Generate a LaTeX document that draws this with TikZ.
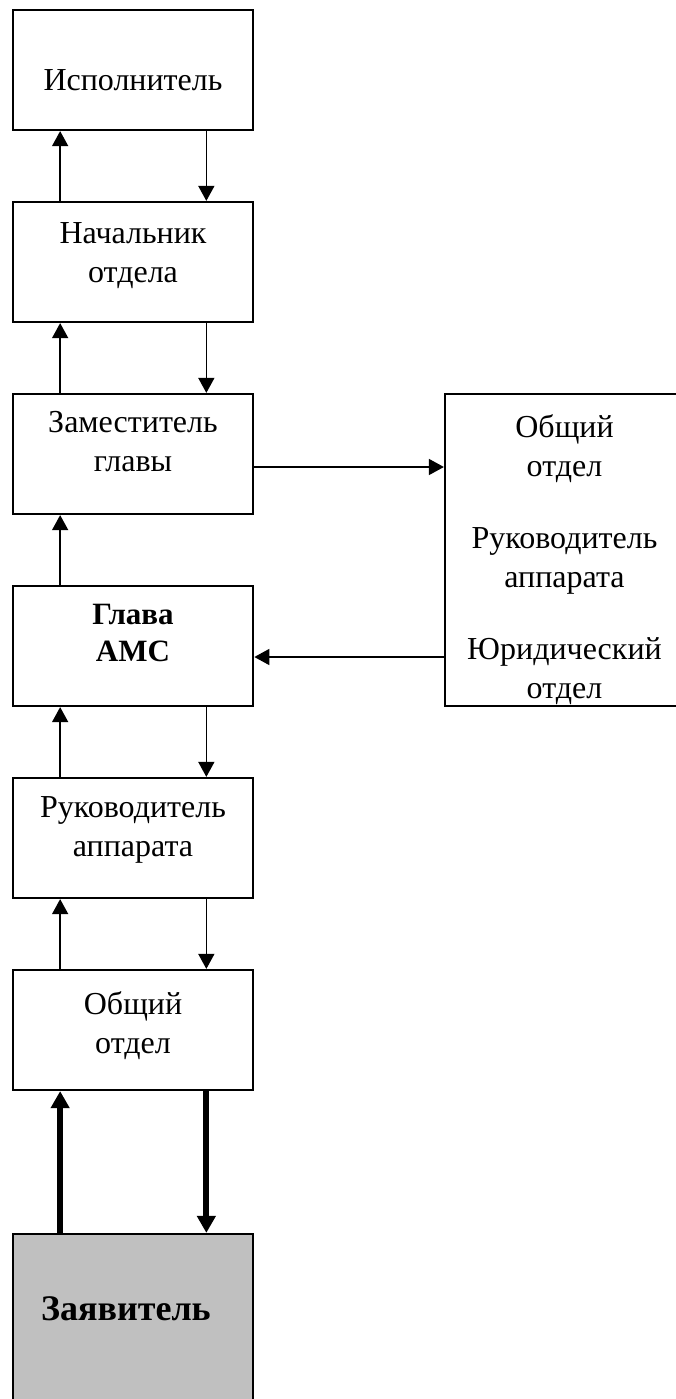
\documentclass[tikz,border=0pt]{standalone}
\usepackage{fontspec}
\setmainfont{Liberation Serif}
\usetikzlibrary{arrows.meta}
\definecolor{seryj}{HTML}{C0C0C0}
\begin{document}
\begin{tikzpicture}[x=1pt, y=-1pt, node distance=192pt,
	blok/.style={shape=rectangle, draw=black, line width=2.2pt, minimum width=240.5pt, minimum height=120pt, inner sep=0pt},
	tekst/.style={anchor=north, align=center, inner sep=0pt, font=\fontsize{32}{39}\selectfont},
	strelka/.style={-{Triangle[length=15pt,width=16pt]}, line width=1.5pt},
	tolstaya/.style={-{Triangle[length=17pt,width=18pt]}, line width=6pt}]
	\useasboundingbox (0,0) rectangle (675,1399);
	
	\draw (133,70) node[blok](ispol){};
	\draw ([yshift=-60pt]ispol.north) node[tekst](ispolT){Исполнитель};
	
	\draw node[blok, below of = ispol](nach){};
	\draw ([yshift=-21pt]nach.north) node[tekst](nachT){Начальник\\отдела};
	
	\draw node[blok, below of = nach](zam){};
	\draw ([yshift=-18pt]zam.north) node[tekst](zamT){Заместитель\\главы};
	
	\draw node[blok, below of = zam](glava){};
	\draw ([yshift=-19pt]glava.north) node[tekst, font=\fontsize{31}{37}\selectfont\bfseries](glavaT){Глава\\АМС};
	
	\draw node[blok, below of = glava](ruk){};
	\draw ([yshift=-19pt]ruk.north) node[tekst](rukT){Руководитель\\аппарата};
	
	\draw node[blok, below of = ruk](obsh){};
	\draw ([yshift=-22pt]obsh.north) node[tekst](obshT){Общий\\отдел};
	
	\draw node[blok, fill=seryj, minimum height=240pt, below of = obsh, yshift=-132pt](zayav){};
	\draw ([xshift=-7pt, yshift=-64pt]zayav.north) node[tekst, font=\fontsize{36}{40}\selectfont\bfseries](zayavT){Заявитель};
	
	\draw (564.5,550) node[blok, minimum width=239pt, minimum height=312pt](otdely){};
	\draw ([yshift=-21pt]otdely.north) node[tekst](otdelyT){Общий\\отдел\\[33pt]Руководитель\\аппарата\\[33pt]Юридический\\отдел};
	
	% vverh
	\draw[strelka] ([xshift=48.5pt]nach.north west) -- ([xshift=48.5pt]ispol.south west);
	\draw[strelka] ([xshift=48.5pt]zam.north west) -- ([xshift=48.5pt]nach.south west);
	\draw[strelka] ([xshift=48.5pt]glava.north west) -- ([xshift=48.5pt]zam.south west);
	\draw[strelka] ([xshift=48.5pt]ruk.north west) -- ([xshift=48.5pt]glava.south west);
	\draw[strelka] ([xshift=48.5pt]obsh.north west) -- ([xshift=48.5pt]ruk.south west);
	\draw[tolstaya] ([xshift=48.5pt]zayav.north west) -- ([xshift=48.5pt]obsh.south west);
	
	% vniz
	\draw[strelka] ([xshift=-48pt]ispol.south east) -- ([xshift=-48pt]nach.north east);
	\draw[strelka] ([xshift=-48pt]nach.south east) -- ([xshift=-48pt]zam.north east);
	\draw[strelka] ([xshift=-48pt]glava.south east) -- ([xshift=-48pt]ruk.north east);
	\draw[strelka] ([xshift=-48pt]ruk.south east) -- ([xshift=-48pt]obsh.north east);
	\draw[tolstaya] ([xshift=-48pt]obsh.south east) -- ([xshift=-48pt]zayav.north east);
	
	% vbok
	\draw[strelka] ([yshift=-13pt]zam.east) -- ([yshift=-13pt]zam.east -| otdely.west);
	\draw[strelka] ([yshift=-11pt]glava.east -| otdely.west) -- ([yshift=-11pt]glava.east);
\end{tikzpicture}
\end{document}
